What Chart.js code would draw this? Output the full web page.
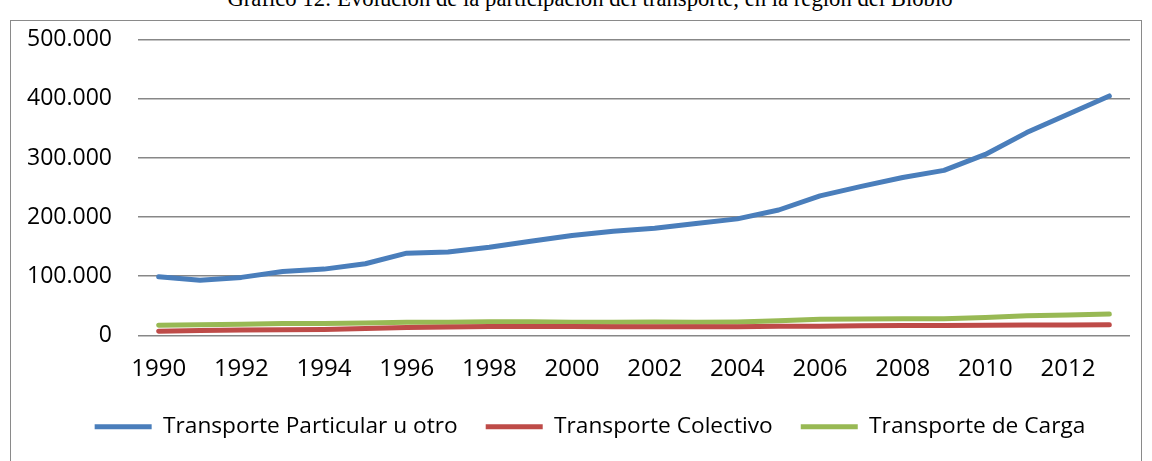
<!DOCTYPE html>
<html>
<head>
<meta charset="utf-8">
<script src="https://cdn.jsdelivr.net/npm/chart.js@4"></script>
<style>
  html, body { margin: 0; padding: 0; background: #fff; overflow: hidden; }
  #wrap { position: relative; width: 1152px; height: 461px; }
  #title {
    position: absolute; left: 0; width: 1180px; top: -12px;
    text-align: center; font-family: "Liberation Serif", serif;
    font-size: 22.7px; line-height: 22.7px; color: #000; white-space: nowrap;
  }
  #frame {
    position: absolute; left: 10px; top: 20px; width: 1130px; height: 460px;
    border: 1px solid #8a8a8a;
  }
  canvas { position: absolute; left: 0; top: 0; }
</style>
</head>
<body>
<div id="wrap">
  <div id="title">Gráfico 12: Evolución de la participación del transporte, en la región del Biobío</div>
  <div id="frame"></div>
  <canvas id="chart" width="1152" height="461"></canvas>
</div>
<script>
// Years on the x axis
const years = ['1990', '1991', '1992', '1993', '1994', '1995', '1996', '1997', '1998', '1999', '2000', '2001',
  '2002', '2003', '2004', '2005', '2006', '2007', '2008', '2009', '2010', '2011', '2012', '2013'];

// Series values
const particular = [99000, 93000, 98000, 108000, 112000, 121000, 139000, 141000, 149000, 159000, 169000, 176000,
  181000, 189000, 197000, 212000, 236000, 252000, 267000, 279000, 306000, 343000, 374000, 405000];
const colectivo = [7000, 8000, 9000, 9500, 10000, 11500, 13000, 14000, 15000, 15000, 15000, 14500,
  14500, 14500, 14500, 15500, 15500, 16000, 16500, 16500, 17000, 17500, 17500, 18000];
const carga = [17000, 18000, 18500, 20000, 20000, 21000, 22000, 22000, 23000, 23000, 22000, 22000,
  22500, 22000, 22500, 24500, 27000, 27500, 28000, 28000, 30000, 33000, 34500, 36000];

const seriesNames = ['Transporte Particular u otro', 'Transporte Colectivo', 'Transporte de Carga'];

// Formats 100000 as 100.000
function miles(v) {
  return String(v).replace(/\B(?=(\d{3})+(?!\d))/g, '.');
}

function serie(label, data, color) {
  return {
    label: label,
    data: data,
    borderColor: color,
    backgroundColor: color,
    borderWidth: 5,
    borderCapStyle: 'round',
    borderJoinStyle: 'round',
    pointRadius: 0,
    tension: 0
  };
}

// the legend in the original sits a bit right of the plot centre
const legendShift = {
  id: 'legendShift',
  afterLayout(chart) {
    chart.legend.left += 25;
    chart.legend.right += 25;
  }
};

const ctx = document.getElementById('chart').getContext('2d');
new Chart(ctx, {
  type: 'line',
  data: {
    labels: years,
    datasets: [
      serie(seriesNames[0], particular, '#4A7EBB'),
      serie(seriesNames[1], colectivo, '#BE4B48'),
      serie(seriesNames[2], carga, '#98B954')
    ]
  },
  options: {
    responsive: false,
    animation: false,
    layout: {
      padding: { left: 0, right: 22, top: 27, bottom: 13 }
    },
    plugins: {
      legend: {
        position: 'bottom',
        labels: {
          color: '#000',
          usePointStyle: true,
          pointStyle: 'line',
          pointStyleWidth: 57,
          boxHeight: 5,
          padding: 28,
          font: { family: 'Open Sans', size: 22.7 }
        }
      },
      tooltip: { enabled: false }
    },
    scales: {
      x: {
        offset: true,
        grid: { display: false, drawTicks: false },
        border: { display: false },
        afterFit: function (scale) { scale.height = 52; },
        ticks: {
          color: '#000',
          autoSkip: false,
          maxRotation: 0,
          padding: 19,
          font: { family: 'Open Sans', size: 24 },
          callback: function (value, index) {
            return index % 2 === 0 ? years[index] : '';
          }
        }
      },
      y: {
        min: 0,
        max: 500000,
        grid: { color: '#878787', lineWidth: 1.5, drawTicks: false },
        border: { display: false },
        afterFit: function (scale) { scale.width = 138; },
        ticks: {
          stepSize: 100000,
          color: '#000',
          padding: 26,
          font: { family: 'Open Sans', size: 23 },
          callback: function (value) { return miles(value); }
        }
      }
    }
  },
  plugins: [legendShift]
});
</script>
</body>
</html>
